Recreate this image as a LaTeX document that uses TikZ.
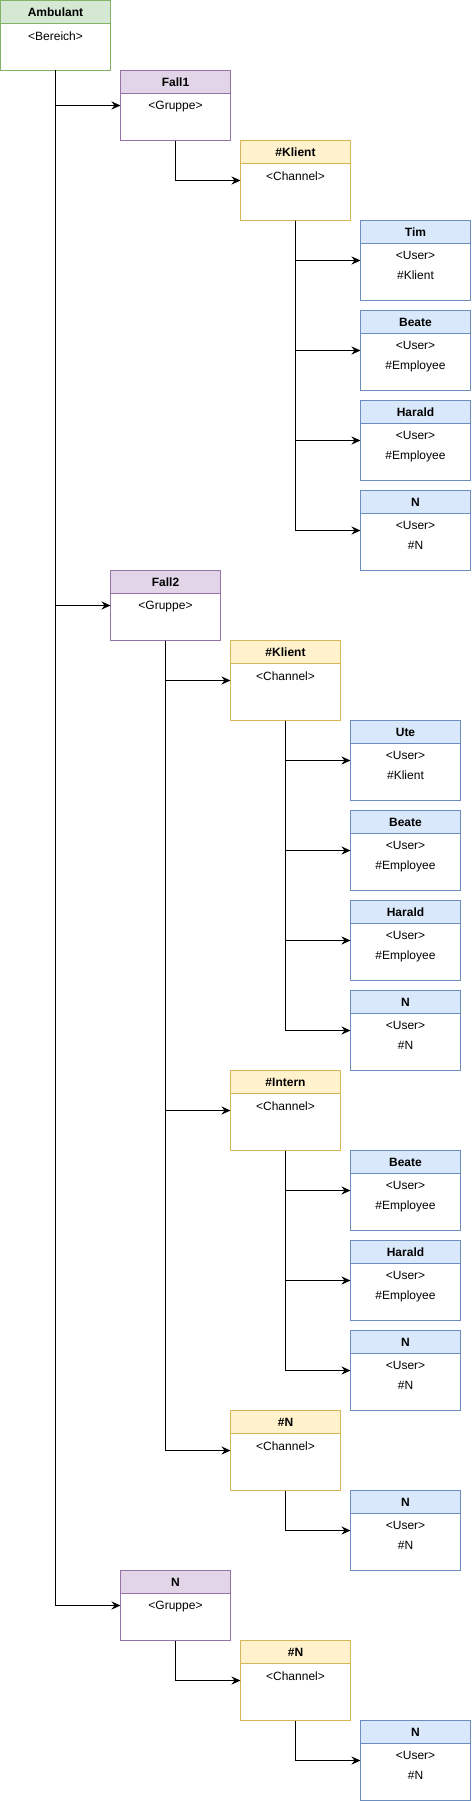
\documentclass[tikz,border=0pt]{standalone}
\usepackage{fontspec}
\setmainfont{Liberation Sans}
\usetikzlibrary{arrows.meta,calc}

\definecolor{grnfill}{HTML}{D5E8D4}
\definecolor{grnline}{HTML}{82B366}
\definecolor{purfill}{HTML}{E1D5E7}
\definecolor{purline}{HTML}{9673A6}
\definecolor{yelfill}{HTML}{FFF2CC}
\definecolor{yelline}{HTML}{D6B656}
\definecolor{blufill}{HTML}{DAE8FC}
\definecolor{bluline}{HTML}{6C8EBF}

% box: name, colour, left, top, height, title, body
\newcommand{\umlbox}[7]{%
  \node[box, draw=#2line, minimum height=#5pt] (#1) at ({#3+55},{-#4-#5/2}) {};
  \node[head, fill=#2fill, draw=#2line, anchor=north] (#1-h) at (#1.north) {#6};
  \node[body, anchor=north] (#1-b) at ([yshift=-30.5pt]#1.north) {#7};
}

\begin{document}
\begin{tikzpicture}[x=1pt, y=1pt, line width=1pt,
    box/.style={rectangle, minimum width=110pt, inner sep=0pt, outer sep=0pt},
    head/.style={rectangle, minimum width=110pt, minimum height=23pt, inner sep=0pt, outer sep=0pt, font=\fontsize{12}{14}\selectfont\bfseries},
    body/.style={inner sep=0pt, align=center, font=\fontsize{12}{20}\selectfont},
    conn/.style={-{Stealth[length=9pt, width=8pt, inset=3pt]}, line width=1pt}]
            \useasboundingbox (-0.5,0.5) rectangle (470.5,-1800.5);
            \umlbox{amb}{grn}{0}{0}{70}{Ambulant}{<Bereich>}
            \umlbox{fall1}{pur}{120}{70}{70}{Fall1}{<Gruppe>}
            \umlbox{klient1}{yel}{240}{140}{80}{\#Klient}{<Channel>}
            \umlbox{tim}{blu}{360}{220}{80}{Tim}{<User>\\\#Klient}
            \umlbox{beate1}{blu}{360}{310}{80}{Beate}{<User>\\\#Employee}
            \umlbox{harald1}{blu}{360}{400}{80}{Harald}{<User>\\\#Employee}
            \umlbox{n1}{blu}{360}{490}{80}{N}{<User>\\\#N}
            \umlbox{fall2}{pur}{110}{570}{70}{Fall2}{<Gruppe>}
            \umlbox{klient2}{yel}{230}{640}{80}{\#Klient}{<Channel>}
            \umlbox{ute}{blu}{350}{720}{80}{Ute}{<User>\\\#Klient}
            \umlbox{beate2}{blu}{350}{810}{80}{Beate}{<User>\\\#Employee}
            \umlbox{harald2}{blu}{350}{900}{80}{Harald}{<User>\\\#Employee}
            \umlbox{n2}{blu}{350}{990}{80}{N}{<User>\\\#N}
            \umlbox{intern}{yel}{230}{1070}{80}{\#Intern}{<Channel>}
            \umlbox{beate3}{blu}{350}{1150}{80}{Beate}{<User>\\\#Employee}
            \umlbox{harald3}{blu}{350}{1240}{80}{Harald}{<User>\\\#Employee}
            \umlbox{n3}{blu}{350}{1330}{80}{N}{<User>\\\#N}
            \umlbox{nch1}{yel}{230}{1410}{80}{\#N}{<Channel>}
            \umlbox{n4}{blu}{350}{1490}{80}{N}{<User>\\\#N}
            \umlbox{ngrp}{pur}{120}{1570}{70}{N}{<Gruppe>}
            \umlbox{nch2}{yel}{240}{1640}{80}{\#N}{<Channel>}
            \umlbox{n5}{blu}{360}{1720}{80}{N}{<User>\\\#N}
            % Bereich -> Gruppen
            \draw[conn] (amb.south) |- (fall1.west);
            \draw[conn] (amb.south) |- (fall2.west);
            \draw[conn] (amb.south) |- (ngrp.west);
            % Fall1
            \draw[conn] (fall1.south) |- (klient1.west);
            \draw[conn] (klient1.south) |- (tim.west);
            \draw[conn] (klient1.south) |- (beate1.west);
            \draw[conn] (klient1.south) |- (harald1.west);
            \draw[conn] (klient1.south) |- (n1.west);
            % Fall2
            \draw[conn] (fall2.south) |- (klient2.west);
            \draw[conn] (fall2.south) |- (intern.west);
            \draw[conn] (fall2.south) |- (nch1.west);
            \draw[conn] (klient2.south) |- (ute.west);
            \draw[conn] (klient2.south) |- (beate2.west);
            \draw[conn] (klient2.south) |- (harald2.west);
            \draw[conn] (klient2.south) |- (n2.west);
            \draw[conn] (intern.south) |- (beate3.west);
            \draw[conn] (intern.south) |- (harald3.west);
            \draw[conn] (intern.south) |- (n3.west);
            \draw[conn] (nch1.south) |- (n4.west);
            % N
            \draw[conn] (ngrp.south) |- (nch2.west);
            \draw[conn] (nch2.south) |- (n5.west);
\end{tikzpicture}
\end{document}
